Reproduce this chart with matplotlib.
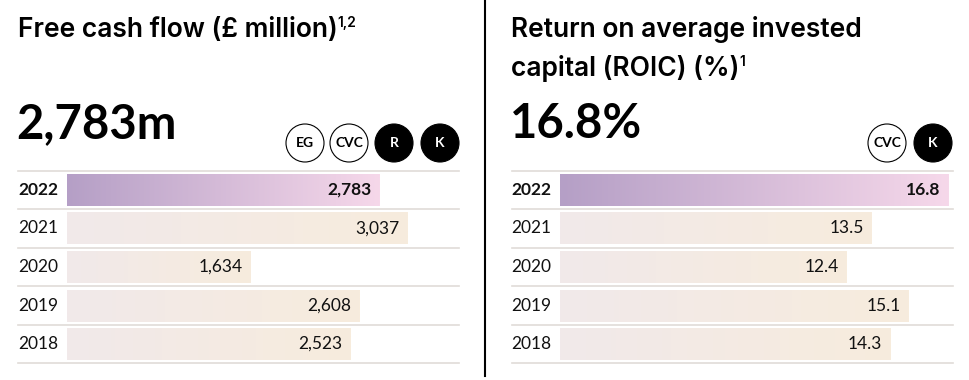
import numpy as np
import matplotlib
matplotlib.use('Agg')
import matplotlib.pyplot as plt
from matplotlib.patches import Ellipse

plt.rcParams['font.family'] = ['Lato', 'DejaVu Sans']
TITLE_FONT = ['Inter', 'DejaVu Sans']

# data
years = ['2022', '2021', '2020', '2019', '2018']
fcf = [2783, 3037, 1634, 2608, 2523]
fcf_labels = ['2,783', '3,037', '1,634', '2,608', '2,523']
roic = [16.8, 13.5, 12.4, 15.1, 14.3]
roic_labels = ['16.8', '13.5', '12.4', '15.1', '14.3']

W, H = 970, 380
fig = plt.figure(figsize=(W / 100, H / 100), dpi=100)
fig.patch.set_facecolor('white')

def fx(x):
    return x / W

def fy(y):
    return 1 - y / H

grad_top = ['#b59fc6', '#f6d8ea']
grad_rest = ['#f1e9ea', '#f7ecdd']

def hex2rgb(h):
    return np.array(matplotlib.colors.to_rgb(h))

def draw_panel(x0, x1, xline, xmax, vals, labels):
    ax = fig.add_axes([fx(x0), fy(363.3), fx(x1 - x0), (363.3 - 170.7) / H])
    ax.set_xlim(0, xmax)
    ax.set_ylim(4.5, -0.5)
    ax.axis('off')
    bars = ax.barh(range(len(vals)), vals, height=0.83, color='none', linewidth=0)
    for i, (b, v) in enumerate(zip(bars, vals)):
        c0, c1 = (grad_top if i == 0 else grad_rest)
        t = np.linspace(0, 1, 256)[None, :, None]
        img = hex2rgb(c0)[None, None, :] * (1 - t) + hex2rgb(c1)[None, None, :] * t
        im = ax.imshow(img, extent=[0, v, i + 0.415, i - 0.415], aspect='auto',
                       interpolation='bilinear', zorder=1)
        im.set_clip_path(b)
        ax.annotate(labels[i], (v, i), xytext=(-8, 0), textcoords='offset pixels',
                    ha='right', va='center', fontsize=12.5, color='#111111',
                    fontweight='bold' if i == 0 else 'normal', zorder=3)
    xmin = (xline - x0) / (x1 - x0)
    for k in range(len(vals) + 1):
        ax.axhline(k - 0.5, xmin=xmin, xmax=1, color='#e0dcd8', lw=1.2, clip_on=False, zorder=0)
    tr = ax.get_yaxis_transform()
    for i, yr in enumerate(years):
        ax.text(xmin, i, yr, transform=tr, ha='left', va='center', fontsize=12.5,
                color='#111111', fontweight='bold' if i == 0 else 'normal')
    return ax

draw_panel(67, 459, 18, 3494, fcf, fcf_labels)
draw_panel(560, 952.7, 511.7, 17.0, roic, roic_labels)

# divider
fig.add_artist(plt.Line2D([fx(485), fx(485)], [fy(0), fy(376)], color='black', lw=1.5))

renderer = fig.canvas.get_renderer()

def title_with_sup(x, y, text, sup):
    t = fig.text(fx(x), fy(y), text, fontsize=19, fontweight='semibold', family=TITLE_FONT,
                 va='baseline', ha='left')
    bb = t.get_window_extent(renderer)
    fig.text(bb.x1 / W, fy(y - 10), sup, fontsize=10, fontweight='semibold', family=TITLE_FONT,
             va='baseline', ha='left')

title_with_sup(18, 37, 'Free cash flow (£ million)', '1,2')
fig.text(fx(511), fy(37), 'Return on average invested', fontsize=19, fontweight='semibold',
         family=TITLE_FONT, va='baseline', ha='left')
title_with_sup(511, 76, 'capital (ROIC) (%)', '1')

fig.text(fx(16), fy(138), '2,783m', fontsize=34, fontweight='bold', va='baseline', ha='left')
fig.text(fx(510), fy(138), '16.8%', fontsize=34, fontweight='bold', va='baseline', ha='left')

def badge(cx, cy, label, filled):
    e = Ellipse((fx(cx), fy(cy)), 38 / W, 38 / H, transform=fig.transFigure,
                facecolor='black' if filled else 'white', edgecolor='black', lw=0.8)
    fig.add_artist(e)
    fig.text(fx(cx), fy(cy), label, ha='center', va='center', fontsize=10, fontweight='bold',
             color='white' if filled else 'black')

badge(305, 143, 'EG', False)
badge(349, 143, 'CVC', False)
badge(394, 143, 'R', True)
badge(440, 143, 'K', True)
badge(887, 143, 'CVC', False)
badge(933, 143, 'K', True)

fig.savefig('out.png', dpi=100)
